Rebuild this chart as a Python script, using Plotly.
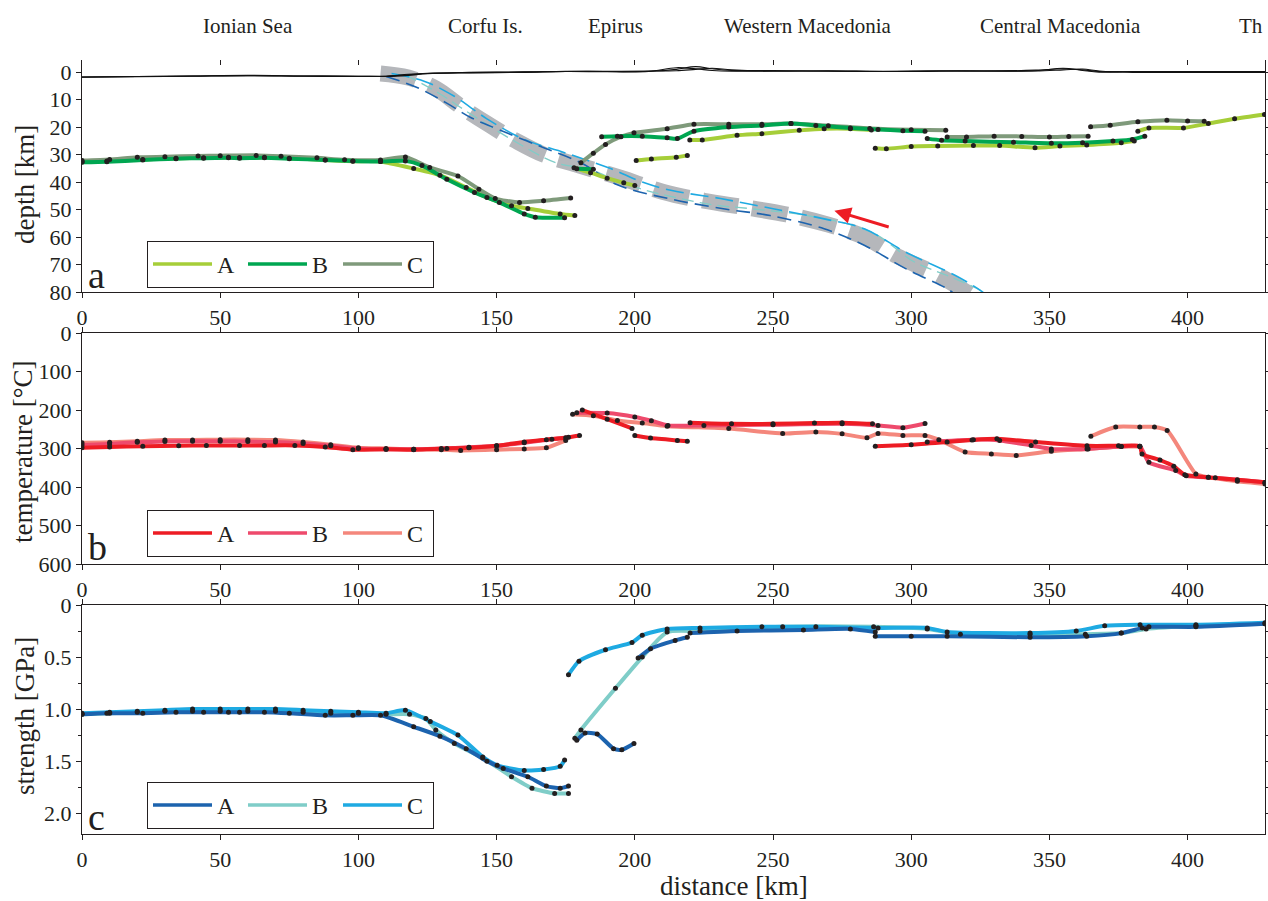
import plotly.graph_objects as go

FONT = "Liberation Serif, Times New Roman, serif"
INK = "#231f20"

# ---------------- categories / labels ----------------
region_names = ["Ionian Sea", "Corfu Is.", "Epirus", "Western Macedonia", "Central Macedonia", "Th"]
region_km = [60, 146, 193, 262.5, 354, 418]
x_ticks = [0, 50, 100, 150, 200, 250, 300, 350, 400]
series_names = ["A", "B", "C"]

# ---------------- panel a: topography (depth km) ----------------
topo_km = [0, 20, 40, 60, 80, 100, 110, 118, 125, 140, 160, 175, 190, 205, 215, 222, 228, 235, 250,
           270, 290, 310, 330, 345, 355, 362, 368, 380, 400, 428]
topo_1 = [1.8, 1.6, 1.4, 1.2, 1.4, 1.5, 1.5, 1.0, 0.5, 0.2, 0.0, -0.3, -0.2, -0.3, -1.0, -2.0, -1.2, -0.6, -0.6,
          -0.3, -0.3, -0.5, -0.4, -0.7, -1.2, -0.8, -0.2, -0.1, -0.1, -0.1]
topo_2 = [1.9, 1.7, 1.5, 1.3, 1.5, 1.6, 1.5, 0.8, 0.4, 0.1, -0.1, -0.2, -0.3, -0.4, -0.5, -1.0, -1.4, -0.8, -0.3,
          -0.5, -0.2, -0.3, -0.5, -0.4, -0.8, -1.1, -0.4, 0.1, 0.1, 0.1]
topo_3 = [1.8, 1.6, 1.4, 1.3, 1.4, 1.5, 1.6, 1.2, 0.6, 0.3, 0.1, -0.2, -0.1, -0.2, -1.6, -1.2, -0.6, -0.3, -0.4,
          -0.4, -0.2, -0.4, -0.3, -0.5, -1.4, -0.6, 0.0, -0.2, -0.2, -0.2]

# ---------------- panel a: slab (dashed) ----------------
slab_gray_km = [108, 118, 128, 137, 147, 157, 167, 180, 195, 210, 225, 240, 255, 270, 283, 295, 310, 323]
slab_gray_depth = [0.5, 2, 6, 12.5, 19, 25, 30, 34, 38.5, 43.5, 46.8, 49.2, 51.8, 55.5, 60, 67, 74, 82]
slab_A_km = [110, 121, 131.8, 140.6, 151, 165.7, 180.5, 193.7, 213, 232.6, 249, 268.5, 283, 298, 313, 316]
slab_A_depth = [1.6, 5.5, 11.2, 16.5, 21, 27, 33, 41, 46.2, 49.8, 52.2, 57, 63, 71.5, 78.8, 81]
slab_B_km = [117, 129, 139, 155.4, 171.6, 183.5, 193.7, 204, 226.6, 243, 262.5, 278.9, 288, 301, 313, 325, 327]
slab_B_depth = [1, 7.6, 14.2, 24.5, 33, 35.3, 39.6, 43, 48, 49.8, 52.2, 55.8, 59.5, 69, 74, 79.4, 81]
slab_C_km = [112, 124, 134.7, 146.5, 160, 174.6, 191, 202.7, 213, 231, 250.5, 268.5, 283, 298, 316, 325, 327]
slab_C_depth = [0.5, 3.4, 8.8, 17, 24.5, 29.3, 35, 40, 43, 46, 49.8, 53.4, 57, 65.5, 74, 79.4, 81]
arrow_tail = [292.4, 56.5]
arrow_head = [272.2, 50.4]

# ---------------- panel a: Moho depth [km] ----------------
depth_A_km = [
    [0, 9, 22, 34, 44, 53, 57, 66, 75, 88, 98, 108, 120, 129.5, 139, 146.5, 155.4, 161.3, 173, 178.3],
    [178, 184, 190, 196, 200],
    [200.5, 206, 215, 219],
    [219.9, 224.4, 237, 246, 259.5, 268.5, 278, 285.6],
    [287, 291, 300, 309.6, 322.5, 332, 344.8, 353.8, 363.5, 376, 380.7],
    [382, 386, 398.5, 407.5, 417, 427.8],
]
depth_A = [
    [32.6, 32.3, 31.8, 31.3, 31.2, 31.0, 31.1, 31.0, 31.3, 32.0, 32.4, 32.5, 35.1, 37.5, 42, 45.6, 48.6, 49.6, 51.6, 52.2],
    [34.8, 36.6, 38.6, 40.3, 41.3],
    [32.2, 31.6, 31.0, 30.3],
    [24.7, 24.7, 23.0, 22.4, 21.2, 20.6, 20.6, 21.1],
    [27.7, 27.9, 27.1, 26.9, 26.7, 26.7, 27.5, 26.9, 26.5, 25.7, 25.1],
    [21.5, 20.3, 20.3, 18.7, 17.0, 15.4],
]
depth_B_km = [
    [0, 9, 22, 34, 44, 53, 57, 66, 75, 88, 98, 108, 117, 123, 132, 142, 151, 160, 164, 174.6],
    [179, 185],
    [188, 193.7, 202.7, 211.7, 215.4, 221.4, 234, 246, 256.5, 265.5, 278, 288, 297, 305],
    [305.8, 311, 319.5, 337, 350.7, 362, 373, 380, 384.5],
]
depth_B = [
    [32.8, 32.6, 32.0, 31.5, 31.3, 31.2, 31.3, 31.2, 31.5, 32.0, 32.3, 32.5, 32.3, 34.0, 39.0, 43.8, 47.4, 51.6, 52.8, 53.0],
    [35.2, 35.3],
    [23.5, 23.3, 23.3, 23.9, 24.2, 21.5, 20.0, 19.4, 18.7, 19.4, 20.3, 20.9, 21.3, 21.5],
    [24.2, 24.8, 25.1, 25.5, 25.9, 25.7, 25.1, 24.5, 23.3],
]
depth_C_km = [
    [0, 10, 20, 30, 42, 50, 63, 72, 85, 95, 108, 117, 125.8, 136, 143.6, 149.5, 158.3, 167, 176.8],
    [180.5, 185, 189.4, 195, 199.7, 211.7, 221.4, 234, 246, 256.5, 270, 285, 300, 312.5],
    [313, 320, 330, 340, 350, 357, 364],
    [364.9, 372, 382, 392.5, 400, 406],
]
depth_C = [
    [32.2, 31.8, 31.0, 30.8, 30.5, 30.4, 30.3, 30.6, 31.2, 31.9, 32.0, 30.9, 34.7, 37.8, 42.6, 46.0, 47.4, 46.8, 45.8],
    [33.0, 29.5, 26.3, 23.5, 22.1, 20.6, 19.0, 19.0, 19.0, 18.7, 19.5, 20.5, 21.0, 21.2],
    [23.6, 23.6, 23.3, 23.4, 23.6, 23.4, 23.3],
    [19.9, 19.3, 18.1, 17.5, 17.8, 17.9],
]

# ---------------- panel b: temperature [°C] ----------------
temp_A_km = [
    [0, 10, 22, 35, 45, 57, 66, 77, 88, 98, 110, 120, 132, 140, 150, 160, 168, 175, 180],
    [181, 190, 199],
    [200, 205.7, 215.4, 219],
    [220, 235, 250, 265, 275, 286],
    [287, 300, 313, 322, 331, 345, 363.6, 375, 382.7, 383.5, 390, 395, 399, 407.5, 418, 428],
]
temp_A = [
    [298, 296, 294, 293, 292, 292, 292, 292, 296, 303, 302, 303, 300, 298, 293, 283, 277, 272, 266],
    [200, 224, 248],
    [266, 273, 279, 281],
    [233, 236, 236, 234, 233, 236],
    [294, 290, 283, 278, 275, 283, 293, 293, 294, 314, 330, 346, 368, 375, 381, 388],
]
temp_B_km = [
    [0, 10, 20, 30, 40, 50, 60, 70, 80, 90, 100, 110, 120, 130, 140, 150, 160, 170, 176],
    [179, 190, 200, 206, 212, 225, 250, 275, 288, 297, 305],
    [305.8, 322.5, 332, 343.4, 350.7, 363.6, 376, 382.7, 386, 395.7, 399.5, 410, 428],
]
temp_B = [
    [291, 288, 284, 282, 281, 281, 282, 283, 287, 293, 300, 302, 302, 300, 297, 293, 285, 276, 271],
    [207, 208, 218, 228, 240, 240, 238, 236, 240, 246, 235],
    [283, 277, 279, 292, 301, 301, 295, 294, 336, 357, 371, 376, 388],
]
temp_C_km = [
    [0, 10, 20, 30, 40, 50, 60, 70, 80, 90, 100, 110, 120, 130, 137, 150, 160, 168, 175],
    [177.5, 185, 193.7, 202.7, 211.7, 234, 253.5, 265.5, 275, 284, 288, 297, 305, 310, 319.5, 329, 338,
     350.7, 364, 376, 382.7],
    [365, 374, 382.7, 388, 392.6, 403, 407.5, 418, 428],
]
temp_C = [
    [285, 284, 281, 278, 278, 277, 277, 278, 283, 290, 298, 300, 302, 303, 305, 303, 301, 298, 279],
    [211, 215, 227, 234, 242, 248, 261, 257, 262, 272, 261, 266, 266, 277, 309, 314, 318, 307, 301, 295, 295],
    [268, 244, 244, 244, 253, 366, 375, 385, 392],
]

# ---------------- panel c: strength [GPa] ----------------
str_A_km = [
    [0, 9, 22, 34, 44, 53, 57, 66, 75, 88, 98, 108, 120, 129.5, 139, 146.5, 152.4, 161.3, 168, 173, 176],
    [179, 182, 186.4, 192.3, 195.3, 199.7],
    [201.2, 205.7, 214.6, 219],
    [220, 237, 261, 278, 287],
    [287, 300, 313, 343, 363.5, 376, 383.6, 386, 403, 428],
]
str_A = [
    [1.05, 1.04, 1.04, 1.03, 1.03, 1.03, 1.03, 1.03, 1.04, 1.06, 1.06, 1.06, 1.17, 1.26, 1.38, 1.50, 1.57,
     1.65, 1.74, 1.76, 1.74],
    [1.30, 1.23, 1.24, 1.38, 1.39, 1.33],
    [0.51, 0.42, 0.34, 0.31],
    [0.27, 0.25, 0.24, 0.23, 0.26],
    [0.30, 0.30, 0.30, 0.31, 0.30, 0.27, 0.22, 0.21, 0.21, 0.18],
]
str_B_km = [
    [0, 10, 20, 30, 40, 50, 60, 70, 80, 90, 100, 110, 118.5, 124.4, 128, 134.7, 145, 155.4, 162.8, 171, 176],
    [178.3, 180.5, 193, 202.7, 211.7, 223.6, 253.5, 286.4, 305.8, 317.8, 343, 363, 376, 385, 403, 428],
]
str_B = [
    [1.05, 1.04, 1.03, 1.02, 1.02, 1.02, 1.02, 1.02, 1.03, 1.04, 1.04, 1.05, 1.05, 1.09, 1.20, 1.33, 1.47,
     1.65, 1.76, 1.81, 1.81],
    [1.28, 1.20, 0.80, 0.50, 0.26, 0.25, 0.21, 0.21, 0.23, 0.28, 0.28, 0.28, 0.27, 0.23, 0.20, 0.18],
]
str_C_km = [
    [0, 10, 20, 30, 40, 50, 60, 70, 80, 90, 100, 110, 117, 126, 136, 145, 150.2, 160, 167, 173, 174.6],
    [176, 179.8, 189.4, 199, 202.7, 211.7, 223.6, 246, 265.5, 288, 305.8, 313, 343, 359.7, 370, 382.8, 403, 428],
]
str_C = [
    [1.04, 1.03, 1.02, 1.01, 1.0, 1.0, 1.0, 1.0, 1.01, 1.02, 1.03, 1.04, 1.01, 1.12, 1.25, 1.46, 1.54, 1.59,
     1.58, 1.55, 1.49],
    [0.67, 0.54, 0.43, 0.36, 0.29, 0.23, 0.22, 0.21, 0.21, 0.22, 0.22, 0.26, 0.27, 0.25, 0.20, 0.19, 0.19, 0.17],
]

# ---------------- styles ----------------
green_cols = ["#a6ce39", "#00a651", "#7f9a7b"]
red_cols = ["#ed1c24", "#ee4a6c", "#f4877c"]
blue_cols = ["#1c63ae", "#7fcdc8", "#1eaae2"]
X_MAX = 428
H = 901

fig = go.Figure()
dots = []


def add_series(xs_list, ys_list, color, xa, ya):
    for xs, ys in zip(xs_list, ys_list):
        fig.add_trace(go.Scatter(x=xs, y=ys, mode="lines", xaxis=xa, yaxis=ya,
                                 line=dict(color=color, width=4, shape="spline", smoothing=0.6),
                                 showlegend=False, hoverinfo="skip"))
        dots.append((xs, ys, xa, ya))


# panel a slab
fig.add_trace(go.Scatter(x=slab_gray_km, y=slab_gray_depth, mode="lines", xaxis="x", yaxis="y",
                         line=dict(color="#b5b7bb", width=16, dash="36px,14px", shape="spline"),
                         showlegend=False, hoverinfo="skip"))
fig.add_trace(go.Scatter(x=slab_B_km, y=slab_B_depth, mode="lines", xaxis="x", yaxis="y",
                         line=dict(color=blue_cols[1], width=1.3, dash="12px,6px", shape="spline"),
                         showlegend=False, hoverinfo="skip"))
fig.add_trace(go.Scatter(x=slab_C_km, y=slab_C_depth, mode="lines", xaxis="x", yaxis="y",
                         line=dict(color=blue_cols[2], width=1.6, dash="18px,7px", shape="spline"),
                         showlegend=False, hoverinfo="skip"))
fig.add_trace(go.Scatter(x=slab_A_km, y=slab_A_depth, mode="lines", xaxis="x", yaxis="y",
                         line=dict(color=blue_cols[0], width=1.6, dash="14px,7px", shape="spline"),
                         showlegend=False, hoverinfo="skip"))
for t in (topo_1, topo_2, topo_3):
    fig.add_trace(go.Scatter(x=topo_km, y=t, mode="lines", xaxis="x", yaxis="y",
                             line=dict(color="#111111", width=1.1, shape="spline"),
                             showlegend=False, hoverinfo="skip"))

add_series(depth_A_km, depth_A, green_cols[0], "x", "y")
add_series(depth_C_km, depth_C, green_cols[2], "x", "y")
add_series(depth_B_km, depth_B, green_cols[1], "x", "y")

add_series(temp_C_km, temp_C, red_cols[2], "x2", "y2")
add_series(temp_B_km, temp_B, red_cols[1], "x2", "y2")
add_series(temp_A_km, temp_A, red_cols[0], "x2", "y2")

add_series(str_B_km, str_B, blue_cols[1], "x3", "y3")
add_series(str_C_km, str_C, blue_cols[2], "x3", "y3")
add_series(str_A_km, str_A, blue_cols[0], "x3", "y3")

for xs, ys, xa, ya in dots:
    fig.add_trace(go.Scatter(x=xs, y=ys, mode="markers", xaxis=xa, yaxis=ya,
                             marker=dict(color=INK, size=5), showlegend=False, hoverinfo="skip"))

# legend entries
for cols, xa, ya, lg in ((green_cols, "x", "y", "legend"), (red_cols, "x2", "y2", "legend2"),
                         (blue_cols, "x3", "y3", "legend3")):
    for name, c in zip(series_names, cols):
        fig.add_trace(go.Scatter(x=[None], y=[None], mode="lines", name=name, xaxis=xa, yaxis=ya,
                                 line=dict(color=c, width=3.5), legend=lg, showlegend=True))

# dummy on top-tick axis
fig.add_trace(go.Scatter(x=[None], y=[None], xaxis="x4", yaxis="y", showlegend=False, hoverinfo="skip"))

# arrow
fig.add_annotation(x=arrow_head[0], y=arrow_head[1], ax=arrow_tail[0], ay=arrow_tail[1],
                   xref="x", yref="y", axref="x", ayref="y", text="", showarrow=True,
                   arrowhead=2, arrowsize=1.1, arrowwidth=3, arrowcolor="#ed1c24")

doms = {"a": [1 - 292 / H, 1 - 60 / H], "b": [1 - 564 / H, 1 - 333 / H], "c": [1 - 834 / H, 1 - 605 / H]}
tickfont = dict(family=FONT, size=22, color=INK)
titlefont = dict(family=FONT, size=27, color=INK)


def xax(anchor, mirror):
    return dict(anchor=anchor, range=[0, X_MAX], tickvals=x_ticks, ticks="outside", ticklen=5,
                tickcolor=INK, showline=True, linecolor=INK, linewidth=1.3, mirror=mirror,
                showgrid=False, zeroline=False, tickfont=tickfont, automargin=False)


def yax(anchor, dom, rng, tv, tt=None):
    d = dict(anchor=anchor, domain=dom, range=rng, tickvals=tv, ticks="outside", ticklen=5,
             tickcolor=INK, showline=True, linecolor=INK, linewidth=1.3, mirror="ticks",
             showgrid=False, zeroline=False, tickfont=tickfont, automargin=False)
    if tt:
        d["ticktext"] = tt
    return d


legend_common = dict(orientation="h", xref="paper", yref="paper", xanchor="left", yanchor="bottom",
                     bgcolor="white", bordercolor=INK, borderwidth=1,
                     font=dict(family=FONT, size=24, color=INK), entrywidth=21, entrywidthmode="pixels",
                     itemwidth=59, tracegroupgap=0)

fig.update_layout(
    width=1268, height=H, margin=dict(l=82, r=3, t=0, b=0),
    paper_bgcolor="white", plot_bgcolor="white",
    xaxis=xax("y", False),
    xaxis4=dict(overlaying="x", anchor="y", side="top", range=[0, X_MAX], tickvals=x_ticks,
                ticks="inside", ticklen=5, tickcolor=INK, showline=False, showticklabels=False,
                showgrid=False, zeroline=False),
    yaxis=yax("x", doms["a"], [80, -4.4], list(range(0, 81, 10))),
    xaxis2=xax("y2", "ticks"),
    yaxis2=yax("x2", doms["b"], [600, 0], list(range(0, 601, 100))),
    xaxis3=xax("y3", "ticks"),
    yaxis3=yax("x3", doms["c"], [2.2, 0], [0, 0.5, 1.0, 1.5, 2.0], ["0", "0.5", "1.0", "1.5", "2.0"]),
    legend=dict(x=(147 - 82) / 1183, y=1 - 288 / H, **legend_common),
    legend2=dict(x=(147 - 82) / 1183, y=1 - 557 / H, **legend_common),
    legend3=dict(x=(147 - 82) / 1183, y=1 - 829 / H, **legend_common),
)
fig.update_layout(yaxis3_minor=dict(tickvals=[0.25, 0.75, 1.25, 1.75], ticks="outside", ticklen=3,
                                    tickcolor=INK))

# axis titles (placed as in the reference)
for text, px, py, ang in (("depth [km]", 25, 185, -90), ("temperature [°C]", 23, 452, -90),
                          ("strength [GPa]", 25, 716, -90), ("distance [km]", 734, 886, 0)):
    fig.add_annotation(x=(px - 82) / 1183, y=1 - py / H, xref="paper", yref="paper", text=text,
                       showarrow=False, textangle=ang, xanchor="center", yanchor="middle",
                       font=titlefont)

# region labels
for name, km in zip(region_names, region_km):
    fig.add_annotation(x=km, y=1 - 26 / H, xref="x", yref="paper", text=name, showarrow=False,
                       xanchor="left" if name == "Th" else "center", yanchor="middle",
                       font=dict(family=FONT, size=21, color=INK))

# panel letters
for letter, xr, yr in (("a", "x domain", "y domain"), ("b", "x2 domain", "y2 domain"),
                       ("c", "x3 domain", "y3 domain")):
    fig.add_annotation(x=0.003, y=0, xref=xr, yref=yr, text=letter, showarrow=False,
                       xanchor="left", yanchor="bottom", yshift=-6,
                       font=dict(family=FONT, size=38, color=INK))

fig.write_html("out.html")
